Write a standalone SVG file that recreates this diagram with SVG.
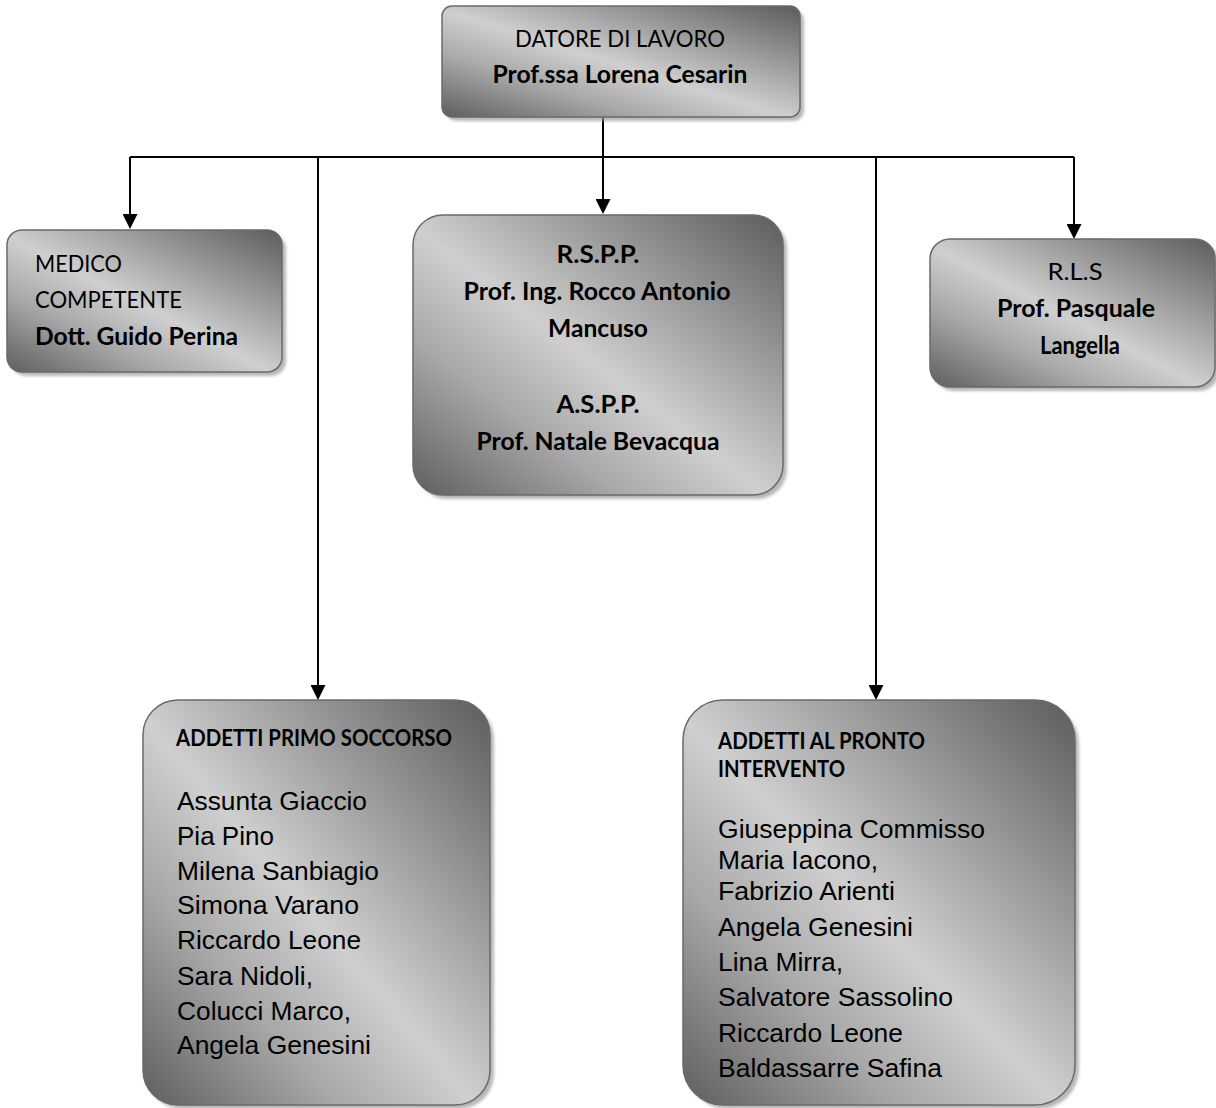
<svg xmlns="http://www.w3.org/2000/svg" width="1216" height="1108" viewBox="0 0 1216 1108">
<defs>
<linearGradient id="g" x1="1" y1="0" x2="0" y2="1">
<stop offset="0" stop-color="#5c5c5c"/>
<stop offset="0.28" stop-color="#9a9a9a"/>
<stop offset="0.52" stop-color="#cfcfcf"/>
<stop offset="0.72" stop-color="#a8a8a8"/>
<stop offset="1" stop-color="#5e5e5e"/>
</linearGradient>
<filter id="sh" x="-5%" y="-5%" width="115%" height="115%">
<feGaussianBlur stdDeviation="1.5"/>
</filter>
<marker id="arr" viewBox="0 0 15 15" refX="13" refY="7.5" markerWidth="15" markerHeight="15" markerUnits="userSpaceOnUse" orient="auto">
<path d="M0,0 L15,7.5 L0,15 Z" fill="#000"/>
</marker>
</defs>
<style>
.box{fill:url(#g);stroke:#6a6a6a;stroke-width:1.5}
.shadow{fill:#9a9a9a;opacity:0.7;filter:url(#sh)}
.c{font-family:Lato,"Open Sans","Liberation Sans",sans-serif;fill:#000}
.b{font-weight:bold}
.a{font-family:"Liberation Sans",Arial,sans-serif;fill:#000;font-size:26px}
.m{text-anchor:middle}
.ln{stroke:#000;stroke-width:2;fill:none}
</style>
<rect width="1216" height="1108" fill="#fff"/>

<g id="connectors">
<polyline class="ln" points="603,116 603,157"/>
<polyline class="ln" points="130,157 1074,157"/>
<line class="ln" x1="603" y1="157" x2="603" y2="212" marker-end="url(#arr)"/>
<line class="ln" x1="130" y1="157" x2="130" y2="227" marker-end="url(#arr)"/>
<line class="ln" x1="1074" y1="157" x2="1074" y2="237" marker-end="url(#arr)"/>
<line class="ln" x1="318" y1="157" x2="318" y2="698" marker-end="url(#arr)"/>
<line class="ln" x1="876" y1="157" x2="876" y2="698" marker-end="url(#arr)"/>
</g>

<g id="datore">
<rect class="shadow" x="446" y="10" width="358" height="111" rx="10"/>
<rect class="box" x="442" y="6" width="358" height="111" rx="10"/>
<text class="c m" x="620" y="47" font-size="23" textLength="210" lengthAdjust="spacingAndGlyphs">DATORE DI LAVORO</text>
<text class="c b m" x="620" y="83" font-size="25" textLength="255" lengthAdjust="spacingAndGlyphs">Prof.ssa Lorena Cesarin</text>
</g>

<g id="medico">
<rect class="shadow" x="11" y="234" width="275" height="142" rx="15"/>
<rect class="box" x="7" y="230" width="275" height="142" rx="15"/>
<text class="c" x="35" y="272" font-size="23" textLength="87" lengthAdjust="spacingAndGlyphs">MEDICO</text>
<text class="c" x="35" y="308" font-size="23" textLength="147" lengthAdjust="spacingAndGlyphs">COMPETENTE</text>
<text class="c b" x="35" y="345" font-size="24" textLength="203" lengthAdjust="spacingAndGlyphs">Dott. Guido Perina</text>
</g>

<g id="rspp">
<rect class="shadow" x="417" y="219" width="370" height="280" rx="30"/>
<rect class="box" x="413" y="215" width="370" height="280" rx="30"/>
<text class="c b m" x="598" y="263" font-size="24" textLength="83" lengthAdjust="spacingAndGlyphs">R.S.P.P.</text>
<text class="c b m" x="597" y="300" font-size="24" textLength="267" lengthAdjust="spacingAndGlyphs">Prof. Ing. Rocco Antonio</text>
<text class="c b m" x="598" y="337" font-size="24" textLength="100" lengthAdjust="spacingAndGlyphs">Mancuso</text>
<text class="c b m" x="598" y="413" font-size="24" textLength="83" lengthAdjust="spacingAndGlyphs">A.S.P.P.</text>
<text class="c b m" x="598" y="450" font-size="24" textLength="243" lengthAdjust="spacingAndGlyphs">Prof. Natale Bevacqua</text>
</g>

<g id="rls">
<rect class="shadow" x="934" y="243" width="285" height="148" rx="20"/>
<rect class="box" x="930" y="239" width="285" height="148" rx="20"/>
<text class="c m" x="1075" y="280" font-size="23" textLength="55" lengthAdjust="spacingAndGlyphs">R.L.S</text>
<text class="c b m" x="1076" y="317" font-size="24" textLength="158" lengthAdjust="spacingAndGlyphs">Prof. Pasquale</text>
<text class="c b m" x="1080" y="354" font-size="24" textLength="80" lengthAdjust="spacingAndGlyphs">Langella</text>
</g>

<g id="primo-soccorso">
<rect class="shadow" x="147" y="704" width="347" height="405" rx="35"/>
<rect class="box" x="143" y="700" width="347" height="405" rx="35"/>
<text class="c b" x="176" y="746" font-size="22" textLength="276" lengthAdjust="spacingAndGlyphs">ADDETTI PRIMO SOCCORSO</text>
<text class="a" x="177" y="810" textLength="190" lengthAdjust="spacingAndGlyphs">Assunta Giaccio</text>
<text class="a" x="177" y="845" textLength="97" lengthAdjust="spacingAndGlyphs">Pia Pino</text>
<text class="a" x="177" y="880" textLength="202" lengthAdjust="spacingAndGlyphs">Milena Sanbiagio</text>
<text class="a" x="177" y="914" textLength="182" lengthAdjust="spacingAndGlyphs">Simona Varano</text>
<text class="a" x="177" y="949" textLength="184" lengthAdjust="spacingAndGlyphs">Riccardo Leone</text>
<text class="a" x="177" y="985" textLength="136" lengthAdjust="spacingAndGlyphs">Sara Nidoli,</text>
<text class="a" x="177" y="1020" textLength="174" lengthAdjust="spacingAndGlyphs">Colucci Marco,</text>
<text class="a" x="177" y="1054" textLength="194" lengthAdjust="spacingAndGlyphs">Angela Genesini</text>
</g>

<g id="pronto-intervento">
<rect class="shadow" x="687" y="704" width="392" height="405" rx="40"/>
<rect class="box" x="683" y="700" width="392" height="405" rx="40"/>
<text class="c b" x="718" y="749" font-size="22" textLength="207" lengthAdjust="spacingAndGlyphs">ADDETTI AL PRONTO</text>
<text class="c b" x="718" y="777" font-size="22" textLength="127" lengthAdjust="spacingAndGlyphs">INTERVENTO</text>
<text class="a" x="718" y="838" textLength="267" lengthAdjust="spacingAndGlyphs">Giuseppina Commisso</text>
<text class="a" x="718" y="869" textLength="160" lengthAdjust="spacingAndGlyphs">Maria Iacono,</text>
<text class="a" x="718" y="900" textLength="177" lengthAdjust="spacingAndGlyphs">Fabrizio Arienti</text>
<text class="a" x="718" y="936" textLength="195" lengthAdjust="spacingAndGlyphs">Angela Genesini</text>
<text class="a" x="718" y="971" textLength="125" lengthAdjust="spacingAndGlyphs">Lina Mirra,</text>
<text class="a" x="718" y="1006" textLength="235" lengthAdjust="spacingAndGlyphs">Salvatore Sassolino</text>
<text class="a" x="718" y="1042" textLength="185" lengthAdjust="spacingAndGlyphs">Riccardo Leone</text>
<text class="a" x="718" y="1077" textLength="224" lengthAdjust="spacingAndGlyphs">Baldassarre Safina</text>
</g>
</svg>
